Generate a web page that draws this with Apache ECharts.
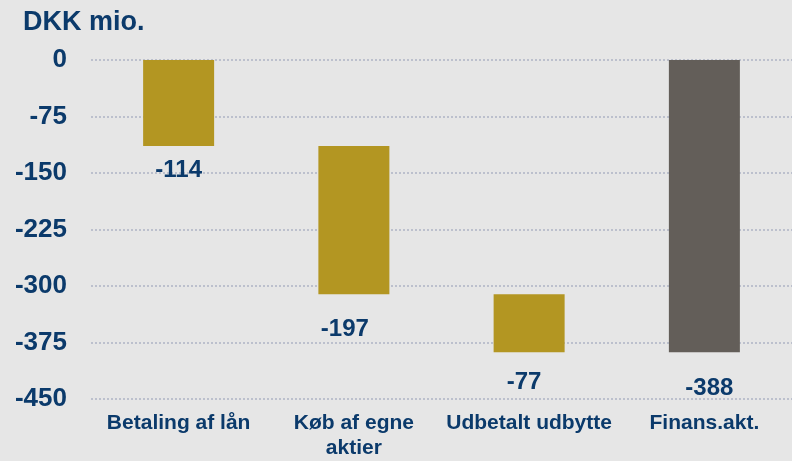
<!DOCTYPE html>
<html>
<head>
<meta charset="utf-8">
<script src="https://cdn.jsdelivr.net/npm/echarts@6/dist/echarts.min.js"></script>
<style>
  html, body { margin: 0; padding: 0; background: #e6e6e6; }
  #container { width: 792px; height: 461px; }
</style>
</head>
<body>
<div id="container"></div>
<script>
const categories = ["Betaling af lån", "Køb af egne\naktier", "Udbetalt udbytte", "Finans.akt."];
// invisible base of each floating bar
const baseValues = [0, -114, -311, 0];
// visible part of each bar
const changeValues = [-114, -197, -77, -388];
const barColors = ["#b39622", "#b39622", "#b39622", "#635e59"];
const labelDistance = [12, 23, 18, 24];
const labelShift = [0, -9, -5, 5];

const navy = "#0b3a6b";
const font = "Liberation Sans, Arial, sans-serif";

const myChart = echarts.init(document.getElementById("container"), null, {
  renderer: "canvas",
});

myChart.setOption({
  backgroundColor: "#e6e6e6",
  animation: false,
  title: {
    text: "DKK mio.",
    left: 18,
    top: 4,
    textStyle: { color: navy, fontSize: 27, fontWeight: "bold", fontFamily: font },
  },
  grid: { left: 91, right: 0, top: 60, bottom: 58, containLabel: false },
  xAxis: {
    type: "category",
    data: categories,
    axisLine: { show: false },
    axisTick: { show: false },
    axisLabel: {
      color: navy,
      fontSize: 21,
      fontWeight: "bold",
      fontFamily: font,
      lineHeight: 25,
      margin: 12,
      interval: 0,
    },
  },
  yAxis: {
    type: "value",
    min: -450,
    max: 0,
    interval: 75,
    axisLine: { show: false },
    axisTick: { show: false },
    axisLabel: {
      color: navy,
      fontSize: 26,
      fontWeight: "bold",
      fontFamily: font,
      margin: 24,
    },
    splitLine: {
      lineStyle: { color: "#bcc0cd", width: 2, type: [2, 2] },
    },
  },
  series: [
    {
      type: "bar",
      stack: "wf",
      barWidth: 71,
      itemStyle: { color: "transparent" },
      emphasis: { disabled: true },
      data: baseValues,
    },
    {
      type: "bar",
      stack: "wf",
      barWidth: 71,
      data: changeValues.map((v, i) => ({
        value: v,
        itemStyle: { color: barColors[i] },
        label: {
          show: true,
          position: "bottom",
          distance: labelDistance[i],
          offset: [labelShift[i], 0],
          color: navy,
          fontSize: 24,
          fontWeight: "bold",
          fontFamily: font,
          lineHeight: 24,
        },
      })),
    },
  ],
});

window.addEventListener("resize", myChart.resize);
</script>
</body>
</html>
